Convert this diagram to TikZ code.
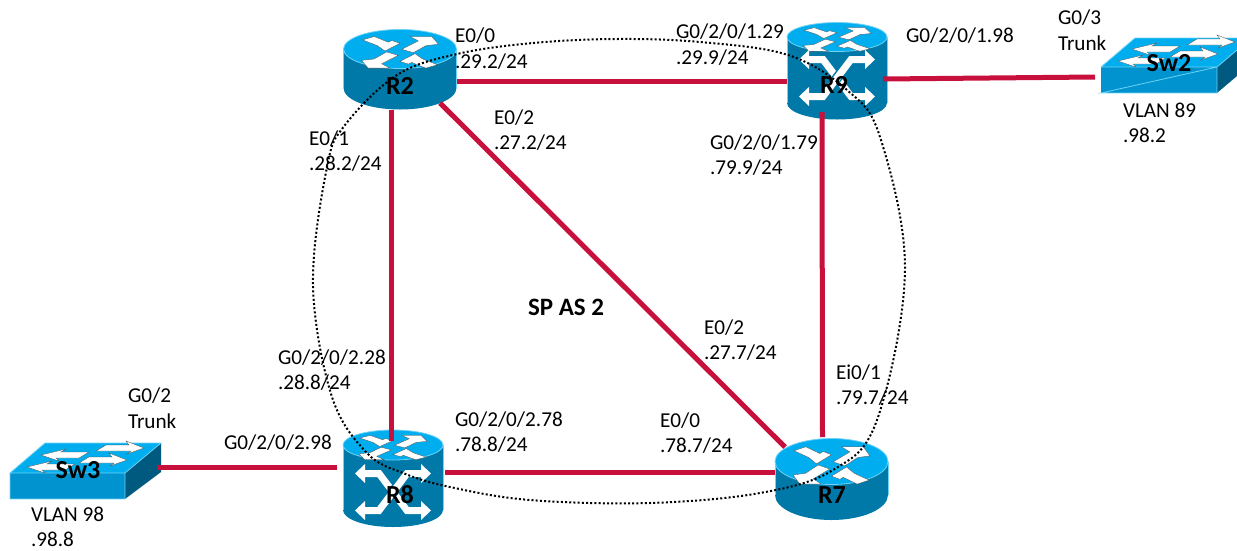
\documentclass[tikz,border=0pt]{standalone}
\usepackage{fontspec}
\setmainfont{Carlito}
\definecolor{rtop}{HTML}{00AEEF}
\definecolor{rrim}{HTML}{6FD3F5}
\definecolor{rside}{HTML}{0078A8}
\definecolor{swfront}{HTML}{0093CF}
\definecolor{swside}{HTML}{005A80}
\definecolor{linkred}{HTML}{C8103C}
\tikzset{
  devbox/.style={rectangle,inner sep=0pt,outer sep=0pt,minimum width=#1},
  txt/.style={inner sep=0pt,outer sep=0pt,anchor=west,align=left,font=\fontsize{21.2}{25.5}\selectfont,text=black},
  devname/.style={inner sep=0pt,outer sep=0pt,font=\fontsize{26}{28}\bfseries\selectfont,text=black},
  link/.style={draw=linkred,line width=5pt},
  ring/.style={draw=black,line width=2pt,dash pattern=on 2pt off 2.2pt},
  rim/.style={draw=rrim,line width=.8pt},
  wht/.style={fill=white,draw=black!70,line width=.3pt}
}
% cx, cy(top ellipse), rx, ry, cy(bottom ellipse)
\newcommand{\cylbody}[5]{
  \fill[rside] (#1,#5) ellipse[x radius=#3,y radius=#4+2];
  \fill[rside] (#1-#3,#2) rectangle (#1+#3,#5);
  \draw[rim] (#1-#3,#2) -- (#1-#3,#5) (#1+#3,#2) -- (#1+#3,#5);
  \fill[rtop] (#1,#2) ellipse[x radius=#3,y radius=#4];
  \draw[rim] (#1,#2) ellipse[x radius=#3,y radius=#4];
  \begin{scope}[shift={(#1,{#2+#4*.17})},xscale={#3/169},yscale={#4/58}]
    \filldraw[wht] (-112,-37)--(-77,-47)--(-35,-30)--(-25,-35)--(0,-27)--(-45,-4)--(-68,-20)--cycle;
    \filldraw[wht] (112,37)--(77,47)--(35,30)--(25,35)--(0,27)--(45,4)--(68,20)--cycle;
    \filldraw[wht] (5,-9)--(40,1)--(78,-20)--(115,-24)--(95,-47)--(30,-47)--(55,-34)--cycle;
    \filldraw[wht] (-5,9)--(-40,-1)--(-78,20)--(-115,24)--(-95,47)--(-30,47)--(-55,34)--cycle;
  \end{scope}
}
% cross-connect arrows on a multilayer body, centred at cx,cy
\newcommand{\crossarrows}[2]{
  \begin{scope}[shift={(#1,#2)}]
    \draw[white,line width=7pt] (-30,-18.5)--(-14,-18.5)--(14,18.5)--(30,18.5);
    \fill[white] (-38,-18.5)--(-28,-28)--(-28,-9)--cycle;
    \fill[white] (38,18.5)--(28,28)--(28,9)--cycle;
    \draw[rside,line width=10pt] (-5,6.6)--(5,-6.6);
    \draw[white,line width=7pt] (-30,18.5)--(-14,18.5)--(14,-18.5)--(30,-18.5);
    \fill[white] (-38,18.5)--(-28,28)--(-28,9)--cycle;
    \fill[white] (38,-18.5)--(28,-28)--(28,-9)--cycle;
  \end{scope}
}
\newcommand{\swleft}[2]{\filldraw[wht] (#1,#2)--(#1+25,#2-6)--(#1+20,#2-3)--(#1+48,#2-3)--(#1+38,#2+3)--(#1+15,#2+3)--(#1+18,#2+6)--cycle;}
\newcommand{\swright}[2]{\filldraw[wht] (#1,#2)--(#1-17,#2+6)--(#1-13,#2+3)--(#1-48,#2+3)--(#1-38,#2-3)--(#1-15,#2-3)--(#1-18,#2-7)--cycle;}
\newcommand{\swarrows}[2]{
  \swleft{#1+31}{#2-18}
  \swleft{#1+17}{#2-6}
  \swright{#1+134}{#2-25}
  \swright{#1+117}{#2-13}
}
\begin{document}
\begin{tikzpicture}[x=1pt,y=-1pt]
\useasboundingbox (0,0) rectangle (1237,550);
% device icons
\cylbody{400}{49}{56.5}{19.5}{88}
\cylbody{831.5}{461.5}{56.5}{23}{495}
\cylbody{837}{37}{50}{14.5}{103}
\crossarrows{837}{78}
\cylbody{393}{445}{50}{15}{510}
\crossarrows{393}{492}
% Sw2
\fill[rtop] (1101,67)--(1135,38)--(1237,38)--(1237,50)--(1217,67)--cycle;
\fill[swside] (1217,67)--(1237,50)--(1237,76)--(1217,93)--cycle;
\fill[swfront] (1101,67) rectangle (1217,93);
\draw[rim] (1101,67)--(1135,38)--(1237,38) (1101,67)--(1217,67)--(1237,50) (1217,67)--(1217,93)--(1101,93)--cycle;
\swarrows{1101}{67}
% Sw3
\fill[rtop] (10,473)--(45,443)--(161,443)--(125,473)--cycle;
\fill[swside] (125,473)--(161,443)--(161,472)--(125,499)--cycle;
\fill[swfront] (10,473) rectangle (125,499);
\draw[rim] (10,473)--(45,443)--(161,443)--(125,473)--cycle (125,473)--(125,499)--(10,499)--(10,473);
\swarrows{10}{473}
% anchor nodes for the devices
\node[devbox=113pt,minimum height=79pt] (R2) at (400,69.5) {};
\node[devbox=113pt,minimum height=79pt] (R7) at (831.5,478) {};
\node[devbox=100pt,minimum height=94pt] (R9) at (837,70) {};
\node[devbox=100pt,minimum height=95pt] (R8) at (393,477.5) {};
\node[devbox=136pt,minimum height=55pt] (Sw2) at (1169,65.5) {};
\node[devbox=151pt,minimum height=56pt] (Sw3) at (85.5,471) {};
% links
\draw[link] ([shift={(57,11.5)}]R2.center) -- ([shift={(-50,11)}]R9.center);
\draw[link] ([shift={(46,9)}]R9.center) -- ([shift={(-74,11.5)}]Sw2.center);
\draw[link] ([shift={(-9,40.5)}]R2.center) -- ([shift={(-2,-36.5)}]R8.center);
\draw[link] ([shift={(-15,42)}]R9.center) -- ([shift={(-9,-41)}]R7.center);
\draw[link] ([shift={(40,33.5)}]R2.center) -- ([shift={(-46.5,-31)}]R7.center);
\draw[link] ([shift={(52,-5.5)}]R8.center) -- ([shift={(-56.5,-6)}]R7.center);
\draw[link] ([shift={(71.5,-4)}]Sw3.center) -- ([shift={(-56,-10.5)}]R8.center);
% AS boundary
\draw[ring] plot[smooth cycle,tension=.6] coordinates {
 (457,54) (533,43) (617,39) (700,42) (788,55) (847,90) (880,137)
 (905,270) (877,420) (833,470) (760,493) (650,503) (530,500) (450,487) (403,473) (367,453) (332,397)
 (313,285) (327,167) (345,125) (397,75)};
% device names
\node[devname] (R2t) at (400,86) {R2};
\node[devname] (R9t) at (834,85) {R9};
\node[devname] (R8t) at (400,495) {R8};
\node[devname] (R7t) at (832,495) {R7};
\node[devname] (Sw2t) at (1169,63) {Sw2};
\node[devname] (Sw3t) at (78,470) {Sw3};
% labels
\node[txt] (l1) at (455,48.5) {E0/0\\.29.2/24};
\node[txt] (l2) at (676,44.5) {G0/2/0/1.29\\.29.9/24};
\node[txt] (l3) at (906,36) {G0/2/0/1.98};
\node[txt] (l4) at (1058,30) {G0/3\\Trunk};
\node[txt] (l5) at (1123,123) {VLAN 89\\.98.2};
\node[txt] (l6) at (494,130) {E0/2\\.27.2/24};
\node[txt] (l7) at (309,151) {E0/1\\.28.2/24};
\node[txt] (l8) at (710,155) {G0/2/0/1.79\\.79.9/24};
\node[txt] (l9) at (704,340) {E0/2\\.27.7/24};
\node[txt,font=\fontsize{25}{27}\bfseries\selectfont] (l10) at (528,307) {SP AS 2};
\node[txt] (l11) at (278,370) {G0/2/0/2.28\\.28.8/24};
\node[txt] (l12) at (836,385) {Ei0/1\\.79.7/24};
\node[txt] (l13) at (128,408) {G0/2\\Trunk};
\node[txt] (l14) at (224,443) {G0/2/0/2.98};
\node[txt] (l15) at (455,432) {G0/2/0/2.78\\.78.8/24};
\node[txt] (l16) at (660,433) {E0/0\\.78.7/24};
\node[txt] (l17) at (31,527) {VLAN 98\\.98.8};
\end{tikzpicture}
\end{document}
